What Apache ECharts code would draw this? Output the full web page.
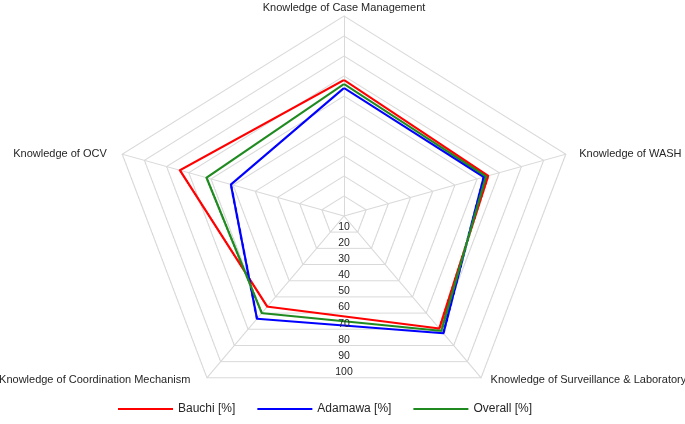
<!DOCTYPE html>
<html><head><meta charset="utf-8">
<script src="https://cdn.jsdelivr.net/npm/echarts@6/dist/echarts.min.js"></script>
<style>
html,body{margin:0;padding:0;background:#fff;overflow:hidden}
#wrap{position:relative;width:685px;height:424px;overflow:hidden}
#plot,#text{position:absolute;left:0;top:0;width:685px;height:424px}
#plot{transform:scaleX(1.166);transform-origin:344px 0}
</style></head><body>
<div id="wrap"><div id="plot"></div><div id="text"></div></div>
<script>
// ---- data ----
const indicators = ['Knowledge of Case Management', 'Knowledge of OCV', 'Knowledge of Coordination Mechanism', 'Knowledge of Surveillance & Laboratory', 'Knowledge of WASH'];
const maxValue = 100;
const tickLabels = ['10', '20', '30', '40', '50', '60', '70', '80', '90', '100'];
const seriesNames = ['Bauchi [%]', 'Adamawa [%]', 'Overall [%]'];
const bauchi = [68, 74, 56, 69.5, 65];
const adamawa = [64, 51, 63.5, 72.5, 63];
const overall = [66, 62, 60, 71, 64];

// ---- style ----
const colors = ['#ff0000', '#0000ff', '#1f8a1f'];
const values = [bauchi, adamawa, overall];
const font = 'Liberation Sans, Arial, sans-serif';
const textColor = '#262626';
const gridColor = '#d9d9d9';
const CX = 344, CY = 216, R = 200;
const namePad = [[0, 0, 3, 0], [0, 47, 0, 0], [5, 36, 0, 0], [5, 0, 0, 29], [0, 0, 0, 45]];

const plot = echarts.init(document.getElementById('plot'), null, {devicePixelRatio: 2});
plot.setOption({
  animation: false,
  radar: {
    center: [CX, CY], radius: R, startAngle: 90, splitNumber: 10, shape: 'polygon',
    indicator: indicators.map(n => ({name: n, min: 0, max: maxValue})),
    axisName: {show: false},
    splitArea: {show: false},
    splitLine: {lineStyle: {color: gridColor, width: 1}},
    axisLine: {lineStyle: {color: gridColor, width: 1}},
    axisTick: {show: false},
    axisLabel: {show: false}
  },
  series: [{
    type: 'radar', symbol: 'none', silent: true,
    data: seriesNames.map((n, i) => ({name: n, value: values[i], lineStyle: {color: colors[i], width: 2}, itemStyle: {color: colors[i]}}))
  }]
});

const rich = {};
namePad.forEach((p, i) => { rich['n' + i] = {padding: p, fontSize: 11, fontFamily: font, color: textColor}; });

const text = echarts.init(document.getElementById('text'));
text.setOption({
  animation: false,
  legend: {
    left: 113, top: 398, icon: 'rect', itemWidth: 55, itemHeight: 2, itemGap: 22,
    textStyle: {fontSize: 12, color: textColor, fontFamily: font},
    data: seriesNames
  },
  radar: [{
    center: [CX, CY], radius: R, startAngle: 90, splitNumber: 10, shape: 'polygon',
    indicator: indicators.map(n => ({name: n, min: 0, max: maxValue})),
    axisNameGap: 0,
    axisName: {
      formatter: (name) => '{n' + indicators.indexOf(name) + '|' + name + '}',
      rich: rich
    },
    splitArea: {show: false}, splitLine: {show: false}, axisLine: {show: false},
    axisTick: {show: false}, axisLabel: {show: false}
  }, {
    center: [CX, CY], radius: R * Math.cos(Math.PI / 5), startAngle: 270, splitNumber: 10, shape: 'polygon',
    indicator: [{name: '', min: 0, max: maxValue}],
    axisName: {show: false},
    splitArea: {show: false}, splitLine: {show: false}, axisLine: {show: false}, axisTick: {show: false},
    axisLabel: {
      show: true, margin: 0, align: 'center', verticalAlign: 'bottom',
      fontSize: 10.5, fontFamily: font, color: textColor,
      formatter: (v, i) => (v === 0 ? '' : tickLabels[Math.round(v / 10) - 1])
    }
  }],
  series: [{
    type: 'radar', radarIndex: 0, symbol: 'none', silent: true,
    data: seriesNames.map((n, i) => ({name: n, value: values[i], lineStyle: {opacity: 0}, itemStyle: {color: colors[i]}}))
  }]
});
</script></body></html>
